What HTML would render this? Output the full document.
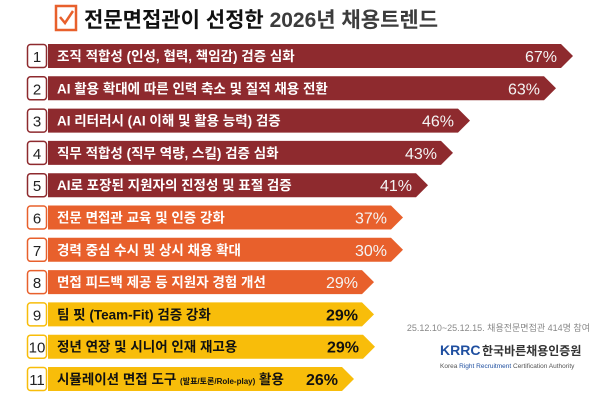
<!DOCTYPE html>
<html><head><meta charset="utf-8"><style>
body{margin:0;background:#fff;}
svg{display:block;font-family:"Liberation Sans","Noto Sans CJK KR",sans-serif;}
</style></head><body>
<svg width="600" height="400" viewBox="0 0 600 400">
<rect x="56" y="6" width="20" height="24" fill="#fff" stroke="#e8602c" stroke-width="2.5"/>
<path d="M60 17 L65 23 L73 11" fill="none" stroke="#e8602c" stroke-width="2.5"/>
<text x="84" y="27" font-size="21" font-weight="bold" fill="#111">전문면접관이 선정한 <tspan fill="#3c3c3c">2026년 채용트렌드</tspan></text>
<g id="rows"></g>
<text x="590" y="331" font-size="9" fill="#888" text-anchor="end">25.12.10~25.12.15. 채용전문면접관 414명 참여</text>
<text x="440" y="355" font-size="14" font-weight="bold" fill="#1f4fa0">KRRC</text>
<text x="482" y="355" font-size="12" font-weight="bold" fill="#333">한국바른채용인증원</text>
<text x="440" y="368" font-size="6.5" fill="#555">Korea <tspan fill="#1f4fa0">Right Recruitment</tspan> Certification Authority</text>
</svg>
<script>
var d=[["조직 적합성 (인성, 협력, 책임감) 검증 심화","67%",573,0],
["AI 활용 확대에 따른 인력 축소 및 질적 채용 전환","63%",556,0],
["AI 리터러시 (AI 이해 및 활용 능력) 검증","46%",470,0],
["직무 적합성 (직무 역량, 스킬) 검증 심화","43%",453,0],
["AI로 포장된 지원자의 진정성 및 표절 검증","41%",428,0],
["전문 면접관 교육 및 인증 강화","37%",403,1],
["경력 중심 수시 및 상시 채용 확대","30%",403,1],
["면접 피드백 제공 등 지원자 경험 개선","29%",374,1],
["팀 핏 (Team-Fit) 검증 강화","29%",374,2],
["정년 연장 및 시니어 인재 재고용","29%",375,2],
["시뮬레이션 면접 도구 <tspan font-size='8'>(발표/토론/Role-play)</tspan> 활용","26%",354,2]];
var col=["#8e2a2e","#e8602c","#f8bd0a"],s="";
d.forEach(function(r,i){var y=44+i*32.3,h=24,c=col[r[3]],t=r[2];
s+="<rect x='27.5' y='"+(y+0.5)+"' width='19' height='"+(h-1)+"' rx='3' fill='#fff' stroke='"+c+"' stroke-width='1.5'/>";
s+="<text x='37' y='"+(y+18)+"' font-size='15' text-anchor='middle' fill='#222'>"+(i+1)+"</text>";
s+="<path d='M48 "+y+" L"+(t-12)+" "+y+" L"+t+" "+(y+h/2)+" L"+(t-12)+" "+(y+h)+" L48 "+(y+h)+" Z' fill='"+c+"'/>";
var fc=r[3]==2?"#111":"#fff";
s+="<text x='57' y='"+(y+17)+"' font-size='13.5' font-weight='bold' fill='"+fc+"'>"+r[0]+"</text>";
s+="<text x='"+(t-16)+"' y='"+(y+18)+"' font-size='16' "+(r[3]==2?"font-weight='bold'":"")+" text-anchor='end' fill='"+(r[3]==2?"#111":"#f4f4f4")+"'>"+r[1]+"</text>";});
document.getElementById("rows").innerHTML=s;
</script>
</body></html>
